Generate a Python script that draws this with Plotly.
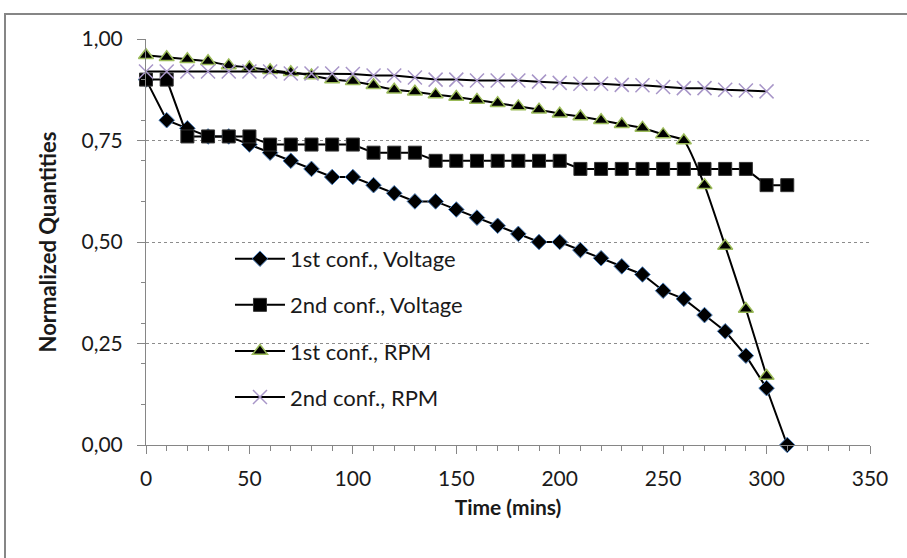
import plotly.graph_objects as go

# Time axis (minutes)
time_voltage = [0, 10, 20, 30, 40, 50, 60, 70, 80, 90, 100, 110, 120, 130, 140, 150,
                160, 170, 180, 190, 200, 210, 220, 230, 240, 250, 260, 270, 280, 290, 300, 310]
time_rpm = [0, 10, 20, 30, 40, 50, 60, 70, 80, 90, 100, 110, 120, 130, 140, 150,
            160, 170, 180, 190, 200, 210, 220, 230, 240, 250, 260, 270, 280, 290, 300]

# Normalized quantities
voltage_conf1 = [0.90, 0.80, 0.78, 0.76, 0.76, 0.74, 0.72, 0.70, 0.68, 0.66, 0.66, 0.64,
                 0.62, 0.60, 0.60, 0.58, 0.56, 0.54, 0.52, 0.50, 0.50, 0.48, 0.46, 0.44,
                 0.42, 0.38, 0.36, 0.32, 0.28, 0.22, 0.14, 0.00]
voltage_conf2 = [0.90, 0.90, 0.76, 0.76, 0.76, 0.76, 0.74, 0.74, 0.74, 0.74, 0.74, 0.72,
                 0.72, 0.72, 0.70, 0.70, 0.70, 0.70, 0.70, 0.70, 0.70, 0.68, 0.68, 0.68,
                 0.68, 0.68, 0.68, 0.68, 0.68, 0.68, 0.64, 0.64]
rpm_conf1 = [0.960, 0.955, 0.950, 0.945, 0.935, 0.930, 0.923, 0.918, 0.910, 0.900, 0.896,
             0.886, 0.875, 0.870, 0.863, 0.857, 0.850, 0.842, 0.834, 0.826, 0.816, 0.809,
             0.800, 0.790, 0.781, 0.765, 0.750, 0.640, 0.490, 0.335, 0.170]
rpm_conf2 = [0.920, 0.920, 0.920, 0.920, 0.920, 0.920, 0.920, 0.915, 0.915, 0.915, 0.914,
             0.910, 0.910, 0.905, 0.900, 0.900, 0.898, 0.898, 0.898, 0.895, 0.892, 0.890,
             0.890, 0.887, 0.886, 0.882, 0.879, 0.879, 0.875, 0.873, 0.871]

series_names = ["1st conf., Voltage", "2nd conf., Voltage", "1st conf., RPM", "2nd conf., RPM"]

FONT = "Lato"
TEXT = "#1a1a1a"
AXIS = "#868686"

fig = go.Figure()

fig.add_trace(go.Scatter(
    x=time_voltage, y=voltage_conf1, name=series_names[0], mode="lines+markers",
    line=dict(color="black", width=2), legendgroup="a",
    marker=dict(symbol="diamond", size=12, color="black",
                line=dict(color="#4f81bd", width=1)),
    cliponaxis=False))
fig.add_trace(go.Scatter(
    x=time_voltage, y=voltage_conf2, name=series_names[1], mode="lines+markers",
    line=dict(color="black", width=2), legendgroup="b",
    marker=dict(symbol="square", size=13, color="black",
                line=dict(color="#333333", width=1)),
    cliponaxis=False))
fig.add_trace(go.Scatter(
    x=time_rpm, y=rpm_conf1, name=series_names[2], mode="lines+markers",
    line=dict(color="black", width=2, shape="spline", smoothing=0.5), legendgroup="c",
    marker=dict(symbol="triangle-up", size=13, color="black",
                line=dict(color="#9bbb59", width=1.5)),
    cliponaxis=False))
fig.add_trace(go.Scatter(
    x=time_rpm, y=rpm_conf2, name=series_names[3], mode="lines+markers",
    line=dict(color="black", width=2), legendgroup="d",
    marker=dict(symbol="x-thin", size=14, color="#a896c8",
                line=dict(color="#a896c8", width=1.5)),
    cliponaxis=False))

# plot-area margins (pixels)
W, H = 907, 558
ML, MR, MT, MB = 146, 37, 39, 113
pw, ph = W - ML - MR, H - MT - MB

# chart frame: left and top edges of the chart box
fx0 = (5 - ML) / pw
fx1 = (W + 6 - ML) / pw
fy1 = (H - 14 - MB) / ph
fy0 = (-6 - MB) / ph
fig.add_shape(type="rect", xref="paper", yref="paper", x0=fx0, x1=fx1, y0=fy0, y1=fy1,
              line=dict(color=AXIS, width=2), layer="below")

fig.update_layout(
    width=W, height=H,
    margin=dict(l=ML, r=MR, t=MT, b=MB),
    paper_bgcolor="white", plot_bgcolor="white",
    separators=",.",
    font=dict(family=FONT, size=21, color=TEXT),
    showlegend=True,
    legend=dict(x=0.116, y=0.51, xanchor="left", yanchor="top",
                bgcolor="rgba(0,0,0,0)", borderwidth=0,
                traceorder="grouped", tracegroupgap=14.5, itemwidth=50,
                font=dict(family=FONT, size=22, color=TEXT)),
    xaxis=dict(
        range=[0, 350], dtick=50, tick0=0,
        showline=True, linecolor=AXIS, linewidth=1,
        ticks="outside", ticklen=8, tickcolor=AXIS,
        minor=dict(dtick=10, ticks="outside", ticklen=5, tickcolor=AXIS, showgrid=False),
        showgrid=False, zeroline=False,
        tickfont=dict(family=FONT, size=21, color=TEXT),
        ticklabelstandoff=7,
        title=dict(text="<b>Time (mins)</b>", font=dict(family=FONT, size=21, color=TEXT),
                   standoff=11),
    ),
    yaxis=dict(
        range=[0, 1], tickvals=[0, 0.25, 0.5, 0.75, 1.0], tickformat=".2f",
        showline=True, linecolor=AXIS, linewidth=1,
        ticks="outside", ticklen=8, tickcolor=AXIS,
        minor=dict(dtick=0.1, ticks="outside", ticklen=4, tickcolor=AXIS, showgrid=False),
        showgrid=True, gridcolor="#8c8c8c", griddash="dot", gridwidth=1,
        zeroline=False,
        tickfont=dict(family=FONT, size=21, color=TEXT),
        ticklabelstandoff=10,
        title=dict(text="<b>Normalized Quantities</b>",
                   font=dict(family=FONT, size=22, color=TEXT), standoff=18),
    ),
)

fig.write_html("out.html")
